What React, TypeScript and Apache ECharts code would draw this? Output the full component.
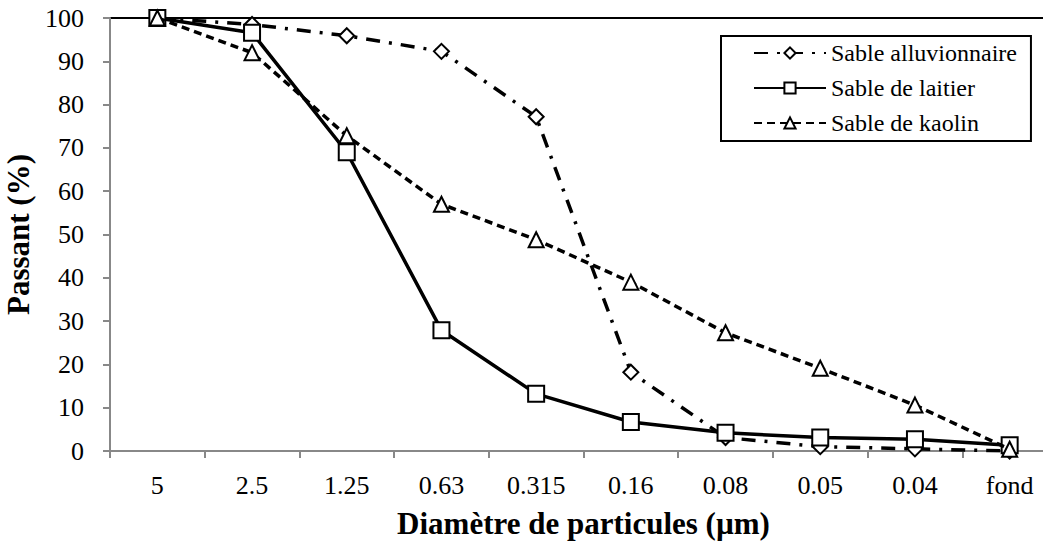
import React, { useEffect, useRef } from "react";
import * as echarts from "echarts";

const categories = ["5", "2.5", "1.25", "0.63", "0.315", "0.16", "0.08", "0.05", "0.04", "fond"];
const alluvionnaire = [100, 98.5, 95.9, 92.3, 77.2, 18.2, 3.1, 1, 0.5, 0];
const laitier = [100, 96.6, 69, 27.9, 13.2, 6.7, 4.2, 3.1, 2.7, 1.3];
const kaolin = [100, 92, 72.8, 57, 48.8, 39, 27.3, 19.1, 10.6, 0.4];
const yTicks = { min: 0, max: 100, interval: 10 };

const FONT = "Times New Roman";

export default function App() {
  const ref = useRef<HTMLDivElement>(null);
  useEffect(() => {
    document.body.style.margin = "0";
    if (!ref.current) return;
    const chart = echarts.init(ref.current, undefined, { renderer: "svg" });
    const marker = {
      itemStyle: { color: "#fff", borderColor: "#000", borderWidth: 2 },
    };
    chart.setOption({
      animation: false,
      grid: {
        left: 110,
        right: -14,
        top: 18,
        bottom: 96,
        containLabel: false,
        outerBoundsMode: "none",
        show: true,
        borderColor: "#000",
        borderWidth: 2,
        backgroundColor: "transparent",
      },
      legend: {
        orient: "vertical",
        left: 721,
        top: 36,
        padding: [5, 14, 6, 32],
        itemWidth: 72,
        itemHeight: 14,
        itemGap: 11,
        borderColor: "#000",
        borderWidth: 2,
        backgroundColor: "#fff",
        textStyle: { fontFamily: FONT, fontSize: 24, color: "#000" },
        data: ["Sable alluvionnaire", "Sable de laitier", "Sable de kaolin"],
      },
      xAxis: {
        type: "category",
        data: categories,
        boundaryGap: true,
        name: "Diamètre de particules (µm)",
        nameLocation: "middle",
        nameGap: 57,
        nameTextStyle: { fontFamily: FONT, fontSize: 31, fontWeight: "bold", color: "#000" },
        axisLine: { lineStyle: { color: "#888", width: 2 } },
        axisTick: { show: true, length: 7, lineStyle: { color: "#888", width: 2 } },
        axisLabel: { fontFamily: FONT, fontSize: 26, color: "#000", margin: 21 },
        splitLine: { show: false },
      },
      yAxis: {
        type: "value",
        min: yTicks.min,
        max: yTicks.max,
        interval: yTicks.interval,
        name: "Passant (%)",
        nameLocation: "middle",
        nameGap: 71,
        nameTextStyle: { fontFamily: FONT, fontSize: 31, fontWeight: "bold", color: "#000" },
        axisLine: { show: true, lineStyle: { color: "#888", width: 2 } },
        axisTick: { show: true, length: 7, lineStyle: { color: "#888", width: 2 } },
        axisLabel: { fontFamily: FONT, fontSize: 26, color: "#000", margin: 26 },
        splitLine: { show: false },
      },
      series: [
        {
          name: "Sable alluvionnaire",
          type: "line",
          data: alluvionnaire,
          symbol: "diamond",
          symbolSize: 15,
          ...marker,
          lineStyle: { color: "#000", width: 3.5, type: [14, 9, 3, 9] },
          z: 3,
        },
        {
          name: "Sable de laitier",
          type: "line",
          data: laitier,
          symbol: "rect",
          symbolSize: 16,
          ...marker,
          lineStyle: { color: "#000", width: 3.5, type: "solid" },
          z: 4,
        },
        {
          name: "Sable de kaolin",
          type: "line",
          data: kaolin,
          symbol: "triangle",
          symbolSize: 15,
          ...marker,
          lineStyle: { color: "#000", width: 3.5, type: [8, 5] },
          z: 5,
        },
      ],
    });
    return () => chart.dispose();
  }, []);
  return <div ref={ref} style={{ width: 1043, height: 547 }} />;
}
